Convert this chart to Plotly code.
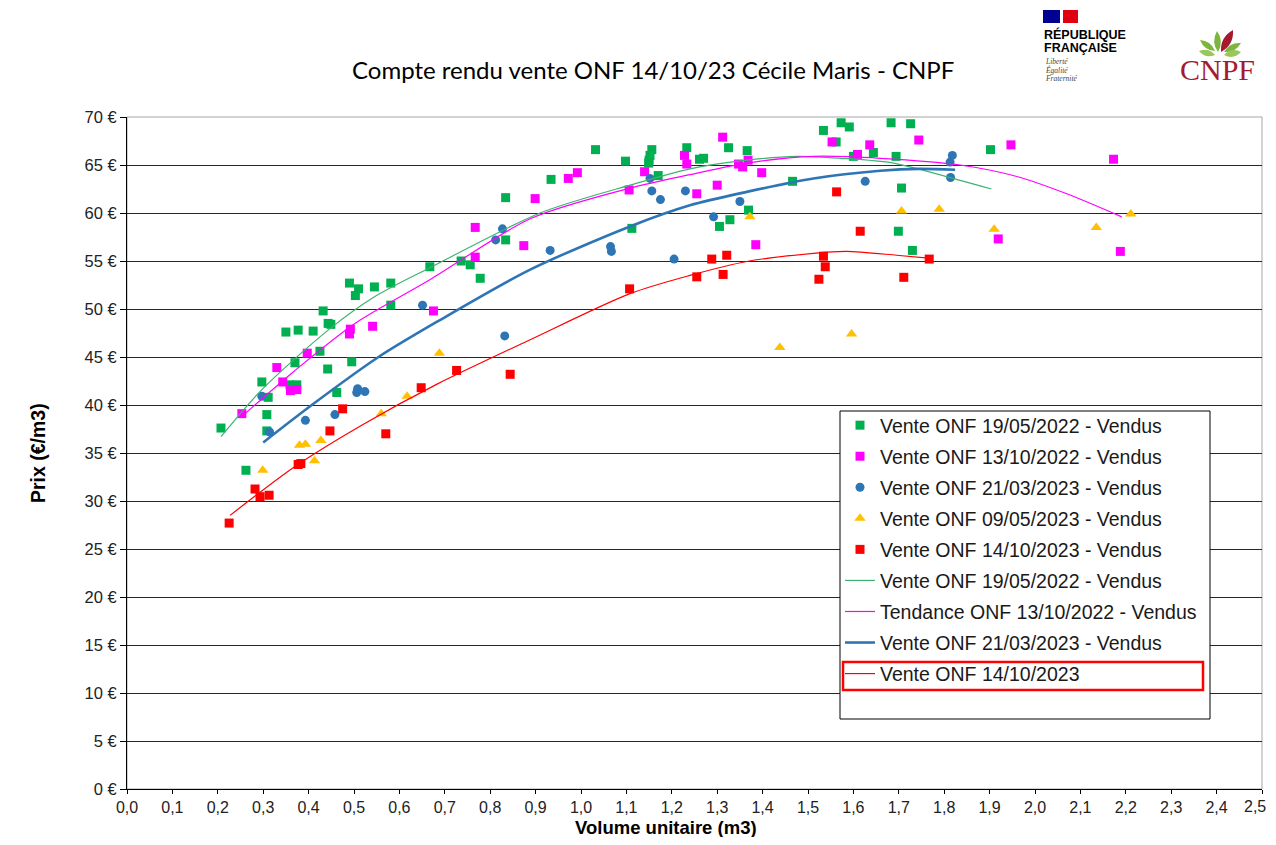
import plotly.graph_objects as go

# ---------------- data ----------------
g_x = [0.207, 0.262, 0.297, 0.308, 0.308, 0.311, 0.350, 0.359, 0.370, 0.374, 0.377, 0.410,
       0.425, 0.432, 0.442, 0.443, 0.449, 0.462, 0.490, 0.495, 0.503, 0.510, 0.545, 0.581,
       0.581, 0.667, 0.736, 0.756, 0.778, 0.834, 0.834, 0.934, 1.032, 1.098, 1.112, 1.149,
       1.150, 1.152, 1.156, 1.170, 1.233, 1.261, 1.270, 1.305, 1.325, 1.328, 1.366, 1.369,
       1.466, 1.534, 1.562, 1.573, 1.591, 1.600, 1.644, 1.683, 1.694, 1.699, 1.706, 1.726,
       1.730, 1.902]
g_y = [37.6, 33.2, 42.4, 39.0, 37.3, 40.8, 47.6, 42.1, 44.4, 42.1, 47.8, 47.7,
       45.6, 49.8, 43.75, 48.5, 48.4, 41.3, 52.7, 44.5, 51.4, 52.1, 52.3, 52.7,
       50.4, 54.4, 55.0, 54.6, 53.2, 61.6, 57.2, 63.5, 66.6, 65.4, 58.4, 65.2,
       65.5, 66.0, 66.6, 63.9, 66.8, 65.6, 65.7, 58.6, 66.8, 59.3, 66.5, 60.3,
       63.3, 68.6, 67.4, 69.4, 68.96, 65.9, 66.3, 69.4, 65.9, 58.1, 62.6, 69.3,
       56.1, 66.6]

m_x = [0.253, 0.330, 0.343, 0.360, 0.374, 0.397, 0.490, 0.492, 0.541, 0.675, 0.767, 0.767,
       0.874, 0.899, 0.972, 0.992, 1.106, 1.140, 1.228, 1.233, 1.255, 1.300, 1.312, 1.347,
       1.356, 1.368, 1.385, 1.398, 1.553, 1.609, 1.636, 1.744, 1.919, 1.947, 2.173, 2.188]
m_y = [39.1, 43.9, 42.4, 41.5, 41.6, 45.4, 47.4, 47.9, 48.2, 49.8, 58.5, 55.4,
       56.6, 61.5, 63.6, 64.2, 62.4, 64.3, 66.0, 65.1, 62.0, 62.9, 67.9, 65.1,
       64.8, 65.5, 56.7, 64.2, 67.4, 66.1, 67.1, 67.6, 57.3, 67.1, 65.6, 56.0]

b_x = [0.297, 0.314, 0.393, 0.458, 0.506, 0.508, 0.524, 0.651, 0.812, 0.827, 0.832, 0.932,
       1.065, 1.067, 1.152, 1.156, 1.175, 1.205, 1.230, 1.292, 1.350, 1.626, 1.813, 1.814,
       1.818]
b_y = [40.9, 37.2, 38.4, 39.0, 41.3, 41.7, 41.4, 50.4, 57.2, 58.35, 47.2, 56.1,
       56.5, 56.0, 63.6, 62.3, 61.4, 55.2, 62.3, 59.6, 61.2, 63.3, 65.3, 63.7,
       66.0]

y_x = [0.299, 0.380, 0.393, 0.413, 0.427, 0.560, 0.617, 0.688, 1.372, 1.438, 1.596, 1.706,
       1.789, 1.910, 2.135, 2.211]
y_y = [33.2, 35.8, 35.9, 34.2, 36.3, 39.1, 40.9, 45.4, 59.6, 46.0, 47.4, 60.2,
       60.4, 58.3, 58.5, 59.9]

r_x = [0.225, 0.282, 0.293, 0.313, 0.377, 0.383, 0.447, 0.475, 0.570, 0.648, 0.726, 0.844,
       1.107, 1.255, 1.288, 1.313, 1.321, 1.524, 1.534, 1.538, 1.563, 1.615, 1.711, 1.767]
r_y = [27.7, 31.25, 30.45, 30.6, 33.8, 33.9, 37.3, 39.6, 37.0, 41.8, 43.6, 43.2,
       52.1, 53.35, 55.2, 53.6, 55.6, 53.1, 55.5, 54.4, 62.2, 58.1, 53.3, 55.2]

# trend curves, points
tg_x = [0.207, 0.297, 0.443, 0.546, 0.667, 0.910, 1.108, 1.240, 1.365, 1.475, 1.570, 1.688, 1.835, 1.904]
tg_y = [36.7, 41.6, 47.8, 51.3, 54.3, 60.0, 62.9, 64.6, 65.5, 65.9, 65.7, 65.2, 63.4, 62.5]
tm_x = [0.253, 0.370, 0.502, 0.669, 0.888, 1.108, 1.240, 1.365, 1.512, 1.659, 1.835, 1.960, 2.070, 2.191]
tm_y = [38.8, 43.6, 48.5, 53.1, 59.4, 62.6, 64.0, 65.2, 65.9, 65.7, 65.0, 63.8, 62.0, 59.6]
tb_x = [0.300, 0.407, 0.554, 0.684, 0.888, 1.108, 1.240, 1.365, 1.512, 1.659, 1.745, 1.824]
tb_y = [36.1, 40.0, 45.0, 48.7, 54.1, 58.6, 60.8, 62.2, 63.6, 64.4, 64.6, 64.5]
tr_x = [0.227, 0.370, 0.517, 0.684, 0.888, 1.108, 1.240, 1.365, 1.512, 1.585, 1.695, 1.765]
tr_y = [28.5, 33.6, 37.9, 42.2, 46.8, 51.6, 53.5, 54.95, 55.8, 56.0, 55.6, 55.3]

x_ticks = [0.0, 0.1, 0.2, 0.3, 0.4, 0.5, 0.6, 0.7, 0.8, 0.9, 1.0, 1.1, 1.2,
           1.3, 1.4, 1.5, 1.6, 1.7, 1.8, 1.9, 2.0, 2.1, 2.2, 2.3, 2.4, 2.5]

names = ["Vente ONF 19/05/2022 - Vendus", "Vente ONF 13/10/2022 - Vendus",
         "Vente ONF 21/03/2023 - Vendus", "Vente ONF 09/05/2023 - Vendus",
         "Vente ONF 14/10/2023 - Vendus", "Vente ONF 19/05/2022 - Vendus",
         "Tendance ONF 13/10/2022 - Vendus", "Vente ONF 21/03/2023 - Vendus",
         "Vente ONF 14/10/2023"]

# ---------------- layout helpers (screen pixel coords of the reference) ----------------
OFF = 8                      # page body margin
W, H = 1260, 829
L, R, T, B = 127, 1262, 117, 789   # plot area on screen


def px(x):
    return (x - L) / (R - L)


def py(y):
    return (B - y) / (B - T)


GREEN, MAG, BLUE, YEL, RED = "#00B050", "#FF00FF", "#2E75B6", "#FFC000", "#FF0000"
FONT = "Liberation Sans, Arial, sans-serif"

fig = go.Figure()
scat = [(g_x, g_y, GREEN, "square", 9), (m_x, m_y, MAG, "square", 9),
        (b_x, b_y, BLUE, "circle", 9), (y_x, y_y, YEL, "triangle-up", 10),
        (r_x, r_y, RED, "square", 9)]
for i, (xs, ys, c, sym, s) in enumerate(scat):
    fig.add_trace(go.Scatter(x=xs, y=ys, mode="markers", name=names[i], legendgroup=str(i),
                             marker=dict(color=c, symbol=sym, size=s, line=dict(width=0))))
lines = [(tg_x, tg_y, "#3CB371", 1.2), (tm_x, tm_y, MAG, 1.2),
         (tb_x, tb_y, BLUE, 2.6), (tr_x, tr_y, RED, 1.2)]
for j, (xs, ys, c, w) in enumerate(lines):
    fig.add_trace(go.Scatter(x=xs, y=ys, mode="lines", name=names[5 + j], legendgroup=str(5 + j),
                             line=dict(color=c, width=w, shape="spline", smoothing=0.8)))

shapes = []
shapes.append(dict(type="rect", xref="paper", yref="paper", x0=0, x1=1, y0=0, y1=1,
                   line=dict(color="#A6A6A6", width=1), layer="below"))
# legend box (white, black border) and red highlight of the last entry
shapes.append(dict(type="rect", xref="paper", yref="paper", x0=px(840), x1=px(1210),
                   y0=py(719), y1=py(411), line=dict(color="#000", width=1),
                   fillcolor="white", layer="above"))
shapes.append(dict(type="rect", xref="paper", yref="paper", x0=px(843), x1=px(1203),
                   y0=py(690), y1=py(662), line=dict(color="#FF0000", width=2.5),
                   layer="above"))
# Marianne flag
shapes.append(dict(type="rect", xref="paper", yref="paper", x0=px(1043), x1=px(1060),
                   y0=py(23), y1=py(10), line=dict(width=0), fillcolor="#000091"))
shapes.append(dict(type="rect", xref="paper", yref="paper", x0=px(1063), x1=px(1078),
                   y0=py(23), y1=py(10), line=dict(width=0), fillcolor="#E1000F"))


def leaf(x0, y0, x1, y1, bulge, color):
    mx, my = (x0 + x1) / 2, (y0 + y1) / 2
    dx, dy = x1 - x0, y1 - y0
    nx, ny = -dy * bulge, dx * bulge
    p = (f"M {px(x0)},{py(y0)} Q {px(mx + nx)},{py(my + ny)} {px(x1)},{py(y1)} "
         f"Q {px(mx - nx)},{py(my - ny)} {px(x0)},{py(y0)} Z")
    return dict(type="path", xref="paper", yref="paper", path=p, line=dict(width=0), fillcolor=color)


shapes += [
    leaf(1218, 52, 1217, 31, 0.32, "#7DB53F"),
    leaf(1221, 52, 1233, 30, 0.32, "#A6192E"),
    leaf(1215, 51, 1200, 40, 0.32, "#7DB53F"),
    leaf(1215, 55, 1199, 51, 0.38, "#9BC75A"),
    leaf(1224, 52, 1241, 43, 0.32, "#7DB53F"),
    leaf(1224, 55, 1241, 52, 0.38, "#9BC75A"),
]

ann = [
    dict(text="Compte rendu vente ONF 14/10/23 Cécile Maris - CNPF", x=px(653), y=py(70),
         font=dict(size=24, family="Lato, Open Sans, sans-serif", color="#000")),
    dict(text="<b>Prix (€/m3)</b>", x=px(38), y=py(453), textangle=-90,
         font=dict(size=19.5, family=FONT, color="#000")),
    dict(text="<b>Volume unitaire (m3)</b>", x=px(666), y=py(828),
         font=dict(size=18.5, family=FONT, color="#000")),
    # last x tick label, kept inside the page edge
    dict(text=f"{x_ticks[-1]:.1f}".replace(".", ","), x=px(1268), y=py(807), xanchor="right",
         font=dict(size=16, family=FONT, color="#222")),
    dict(text="<b>RÉPUBLIQUE</b>", x=px(1042), y=py(34), xanchor="left",
         font=dict(size=12.5, family=FONT, color="#000")),
    dict(text="<b>FRANÇAISE</b>", x=px(1042), y=py(48), xanchor="left",
         font=dict(size=12.5, family=FONT, color="#000")),
    dict(text="<i>Liberté</i>", x=px(1043), y=py(62), xanchor="left",
         font=dict(size=7.5, family="Liberation Serif, serif", color="#444")),
    dict(text="<i>Égalité</i>", x=px(1043), y=py(70), xanchor="left",
         font=dict(size=7.5, family="Liberation Serif, serif", color="#444")),
    dict(text="<i>Fraternité</i>", x=px(1043), y=py(78), xanchor="left",
         font=dict(size=7.5, family="Liberation Serif, serif", color="#444")),
    dict(text="CNPF", x=px(1217), y=py(70),
         font=dict(size=30, family="Liberation Serif, serif", color="#A6192E")),
]
for a in ann:
    a.update(xref="paper", yref="paper", showarrow=False)
    a.setdefault("xanchor", "center")
    a.setdefault("yanchor", "middle")

fig.update_layout(
    width=W, height=H,
    margin=dict(l=L - OFF, r=W - (R - OFF), t=T - OFF, b=H - (B - OFF), pad=0),
    paper_bgcolor="white", plot_bgcolor="white",
    separators=", ",
    showlegend=True,
    legend=dict(x=px(840), y=py(406), xanchor="left", yanchor="top",
                borderwidth=0, bgcolor="rgba(0,0,0,0)",
                font=dict(size=19.5, family=FONT, color="#1a1a1a"),
                tracegroupgap=2.7, itemwidth=30),
    xaxis=dict(range=[0, 2.5], tickmode="array", tickvals=x_ticks, tickformat=".1f",
               showgrid=False, zeroline=False, showline=True, linecolor="#000", linewidth=1,
               ticks="outside", ticklen=4, tickcolor="#000",
               tickfont=dict(size=16, family=FONT, color="#222")),
    yaxis=dict(range=[0, 70], dtick=5, tick0=0, ticksuffix=" €", showgrid=True,
               gridcolor="#262626", gridwidth=1, zeroline=False, showline=True,
               linecolor="#000", linewidth=1, ticks="outside", ticklen=6, tickcolor="#000",
               tickfont=dict(size=16.5, family=FONT, color="#222")),
    shapes=shapes,
    annotations=ann,
)

fig.write_html("out.html")
